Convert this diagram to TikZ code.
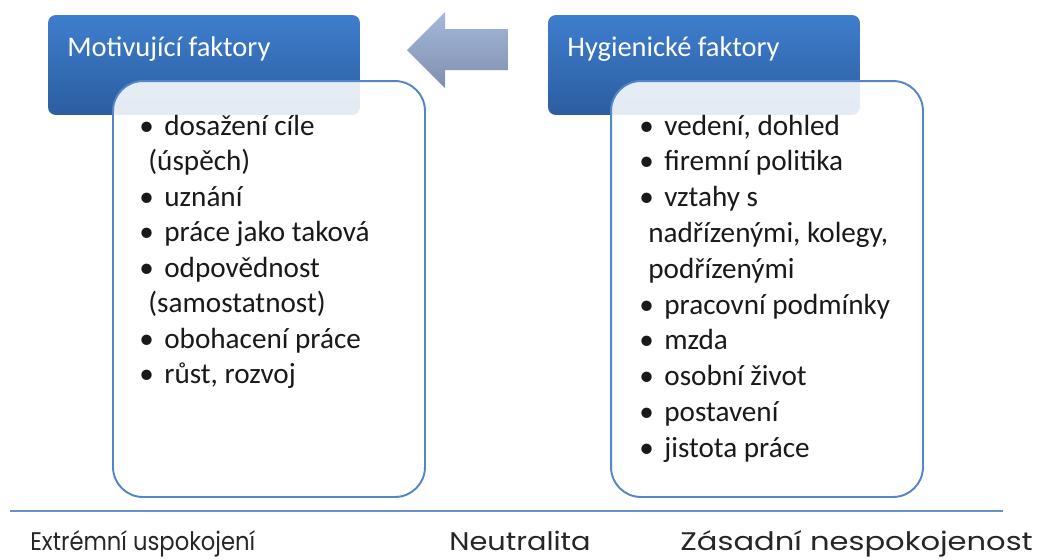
\documentclass[tikz,border=0pt]{standalone}
\usepackage{fontspec}
\setmainfont{Carlito}
\newfontfamily\scalefam{Poppins}
\usepackage{graphicx}
\usetikzlibrary{positioning}
\definecolor{hdrtop}{RGB}{62,126,206}
\definecolor{hdrbot}{RGB}{44,93,160}
\definecolor{boxline}{RGB}{84,134,196}
\definecolor{arrtop}{RGB}{165,185,220}
\definecolor{arrbot}{RGB}{128,142,172}
\definecolor{axisblue}{RGB}{104,146,204}
\newcommand{\bul}{\textbullet\hspace{0.36em}}
\newcommand{\cnt}{\hspace*{0.31em}}

\begin{document}
\begin{tikzpicture}[x=0.02cm,y=-0.02cm,
  hdr/.style={rounded corners=4.5pt, top color=hdrtop, bottom color=hdrbot,
    minimum width=6.24cm, minimum height=2cm, inner sep=0},
  factbox/.style={draw=boxline, line width=1.1pt, rounded corners=17pt,
    fill=white, fill opacity=0.88, minimum width=6.24cm, minimum height=8.32cm, inner sep=0},
  hdrtxt/.style={text=white, font=\fontsize{16.2pt}{19pt}\selectfont, inner sep=0, anchor=base west},
  item/.style={text=black!90, font=\fontsize{16.6pt}{20pt}\selectfont, inner sep=0, anchor=base west},
  scaletxt/.style={text=black!85, font=\scalefam\fontsize{14.5pt}{17pt}\selectfont, inner sep=0, anchor=base west}]
\useasboundingbox (0,0) rectangle (1038,559);
% headers and boxes
\node[hdr] (mothdr) at (204,65) {};
\node[factbox] (motbox) at (269,289) {};
\node[hdr] (hyghdr) at (704,65) {};
\node[factbox] (hygbox) at (767,289) {};
\node[hdrtxt] (mottxt) at (67,56) {Motivující faktory};
\node[hdrtxt] (hygtxt) at (567,56) {Hygienické faktory};
% arrow between the headers
\shade[top color=arrtop, bottom color=arrbot]
  (508,29) -- (445,29) -- (445,12) -- (407,50) -- (445,88) -- (445,70) -- (508,70) -- cycle;
% motivating factors
\foreach \t [count=\i] in {{\bul dosažení cíle},{\cnt(úspěch)},{\bul uznání},
    {\bul práce jako taková},{\bul odpovědnost},{\cnt(samostatnost)},
    {\bul obohacení práce},{\bul růst, rozvoj}}
  \node[item] (mi\i) at (139,{135+35.5*(\i-1)}) {\t};
% hygiene factors
\foreach \t [count=\i] in {{\bul vedení, dohled},{\bul firemní politika},{\bul vztahy s},
    {\cnt nadřízenými, kolegy,},{\cnt podřízenými},{\bul pracovní podmínky},
    {\bul mzda},{\bul osobní život},{\bul postavení},{\bul jistota práce}}
  \node[item] (hi\i) at (639,{135+35.8*(\i-1)}) {\t};
% scale
\coordinate (axl) at (10,511);
\coordinate (axr) at (1003,511);
\draw[axisblue, line width=1.3pt] (axl) -- (axr);
\node[scaletxt] (extr) at (30,550) {\scalebox{0.89}[1]{Extrémní uspokojení}};
\node[scaletxt] (neut) at (449,550) {\scalebox{1.13}[1]{Neutralita}};
\node[scaletxt] (zas) at (680,550) {\scalebox{1.2}[1]{Zásadní nespokojenost}};
\end{tikzpicture}
\end{document}
